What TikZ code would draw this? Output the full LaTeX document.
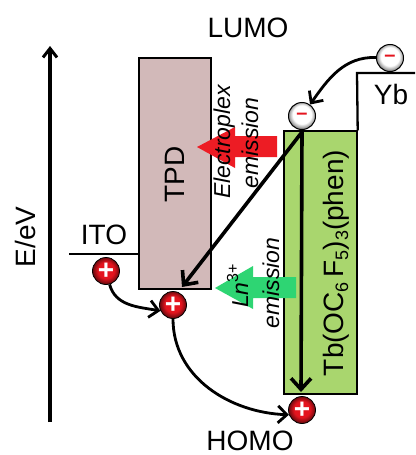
\documentclass[tikz,border=0pt]{standalone}
\usepackage{fontspec}
\setmainfont{Liberation Sans}
\usetikzlibrary{arrows.meta,positioning,calc}
\definecolor{elTpd}   {HTML}{D2B9B9}
\definecolor{elTb}    {HTML}{A9D66E}
\definecolor{elRed}   {HTML}{ED1C24}
\definecolor{elGreen} {HTML}{2ED573}
\definecolor{elHole}  {HTML}{E4141E}
\pgfdeclareradialshading{holeshade}{\pgfpoint{0bp}{2bp}}{color(0bp)=(elHole); color(15bp)=(elHole); color(25bp)=(elHole!45!black); color(50bp)=(elHole!45!black)}
\pgfdeclareradialshading{electronshade}{\pgfpoint{0bp}{4bp}}{color(0bp)=(white); color(17bp)=(white); color(27bp)=(black!55); color(50bp)=(black!55)}
\newcommand{\subdig}[1]{\raisebox{-5pt}{\fontsize{18}{18}\selectfont #1}}
\newcommand{\supdig}[1]{\raisebox{10pt}{\fontsize{16}{16}\selectfont #1}}
\tikzset{
  layerbox/.style={draw=black, line width=1.4pt, inner sep=0pt},
  levelline/.style={draw=black, line width=2.3pt},
  hopping/.style={-{Straight Barb[length=9pt,width=17pt,line width=2.8pt]}, draw=black, line width=2.8pt},
  decay/.style={-{Straight Barb[length=11pt,width=20pt,line width=3.6pt]}, draw=black, line width=3.6pt},
  holeball/.style={circle, draw=black, line width=0.8pt, minimum size=27pt, inner sep=0pt,
                   shade, shading=holeshade, text=white, font=\bfseries\fontsize{28}{28}\selectfont},
  electronball/.style={circle, draw=black, line width=1pt, minimum size=27pt, inner sep=0pt,
                   shade, shading=electronshade, text=elHole, font=\bfseries\fontsize{20}{20}\selectfont},
  biglabel/.style={font=\fontsize{28}{28}\selectfont, inner sep=0pt},
  sidelabel/.style={biglabel, rotate=90, anchor=base},
  emitlabel/.style={font=\itshape\fontsize{23}{23}\selectfont, inner sep=0pt, rotate=90, anchor=base},
}
\begin{document}
\begin{tikzpicture}[x=1pt,y=-1pt]
  \useasboundingbox (0,0) rectangle (415,455);

  % layers
  \node[layerbox, fill=elTpd, minimum width=72pt, minimum height=231pt] (tpd) at (175,173.5) {};
  \node[layerbox, fill=elTb, minimum width=73pt, minimum height=263pt] (tb) at (320.5,262.5) {};

  % levels
  \coordinate (itoL) at (69,254);
  \coordinate (ybC)  at (357,73);
  \coordinate (ybR)  at (415,73);
  \draw[levelline] (itoL) -- (tpd.west |- itoL);
  \draw[levelline] (tb.north east) -- (ybC) -- (ybR);

  % axis
  \coordinate (axisB) at (50,422);
  \coordinate (axisT) at (50,46);
  \draw[-{Straight Barb[length=9pt,width=14pt,line width=3pt]}, draw=black, line width=3.4pt] (axisB) -- (axisT);
  \node[sidelabel] (eev) at (35,237) {E/eV};

  % emission arrows
  \fill[elRed] (197,147) -- (235,127) -- (235,136) -- (277,136) -- (277,157) -- (235,157) -- (235,168) -- cycle;
  \fill[elGreen] (215,288) -- (253,266) -- (253,277) -- (296,277) -- (296,298) -- (253,298) -- (253,309) -- cycle;

  % labels
  \node[biglabel] (lumo) at (248,28) {LUMO};
  \node[biglabel] (homo) at (250,441) {HOMO};
  \node[biglabel] (yb)   at (391,94) {Yb};
  \node[biglabel] (ito)  at (104,234.5) {ITO};
  \node[sidelabel] (tpdl) at (184,174.5) {TPD};
  \node[sidelabel] (tbl)  at (343,263) {Tb(OC\subdig{6}\,F\subdig{5})\subdig{3}(phen)};
  \node[emitlabel] (elex) at (230,142) {Electroplex};
  \node[emitlabel] (emia) at (258,143) {emission};
  \node[emitlabel] (lnex) at (248,286) {Ln\supdig{\upshape 3+}};
  \node[emitlabel] (emib) at (279,283) {emission};

  % carriers
  \node[electronball] (eYb)  at (390,58) {–};
  \node[electronball] (eTb)  at (302,116) {–};
  \node[holeball]     (hIto) at (106,271) {+};
  \node[holeball]     (hTpd) at (173,305) {+};
  \node[holeball]     (hTb)  at (302,410) {+};

  % transfers
  \coordinate (diagS) at (302,132);
  \coordinate (diagE) at (182,287);
  \coordinate (vertE) at (301,392);
  \draw[hopping] (eYb) to[out=178,in=55] (eTb);
  \draw[hopping] (hIto) to[out=-75,in=170] (hTpd.205);
  \draw[hopping] (hTpd.south) to[out=-90,in=178] (hTb.200);
  \draw[decay] (diagS) -- (diagE);
  \draw[decay] (diagS) -- (vertE);
\end{tikzpicture}
\end{document}
